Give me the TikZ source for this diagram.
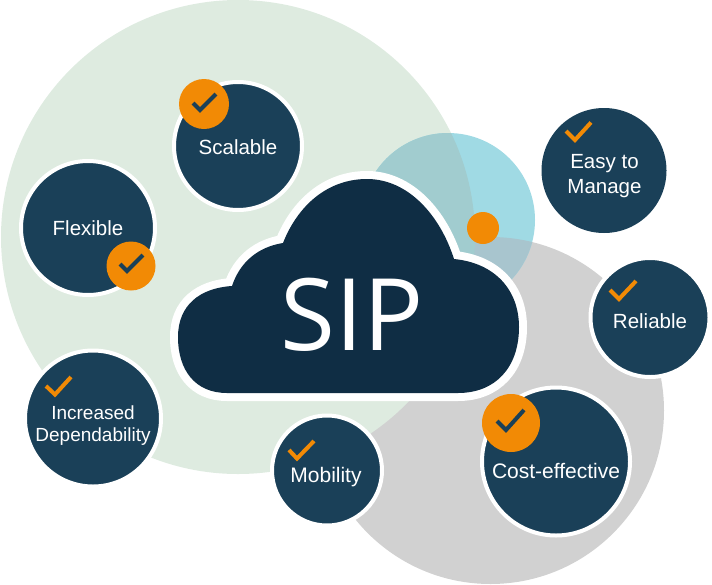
\documentclass[tikz,border=0pt]{standalone}
\usepackage{fontspec}
\setmainfont{Liberation Sans}
\newfontfamily\sipfont{Open Sans}
\usepackage{tikz}
\definecolor{greenbg}{HTML}{DEEBE0}
\definecolor{graybg}{HTML}{D1D1D1}
\definecolor{bluebg}{HTML}{A0DAE4}
\definecolor{bluegreen}{HTML}{A1CCCF}
\definecolor{bluegray}{HTML}{A8C5CE}
\definecolor{bubblecol}{HTML}{1A4058}
\definecolor{cloudcol}{HTML}{0F2D44}
\definecolor{orangecol}{HTML}{F28A05}
\tikzset{
    bubble/.style={circle, fill=bubblecol, draw=white, line width=4pt, inner sep=0pt},
    badge/.style={circle, fill=orangecol, inner sep=0pt},
    bubbletext/.style={text=white, align=center, font=\fontsize{20.5}{25.5}\selectfont},
    tickorange/.style={draw=orangecol, line width=4pt, miter limit=10},
    tickdark/.style={draw=bubblecol, line width=4pt, miter limit=10}
}
\begin{document}
\begin{tikzpicture}[x=1pt,y=-1pt]
    \useasboundingbox (0,0) rectangle (712,584);

    % background circles
    \fill[graybg] (490.5,410.5) circle (173.5);
    \fill[greenbg] (238,237) circle (237);
    \fill[bluebg] (448,220) circle (87);
    \begin{scope}
        \clip (490.5,410.5) circle (173.5);
        \fill[bluegray] (448,220) circle (87);
    \end{scope}
    \begin{scope}
        \clip (238,237) circle (237);
        \fill[bluegreen] (448,220) circle (87);
    \end{scope}

    % cloud
    \path[fill=cloudcol, preaction={draw=white, line width=16pt}]
        (227,393) .. controls (195,393) and (178,370) .. (178,337)
        .. controls (178,305) and (200,288) .. (232,286)
        .. controls (240,262) and (258,247) .. (283,243)
        .. controls (298,205) and (328,179) .. (367,179)
        .. controls (408,179) and (440,215) .. (454,259)
        .. controls (495,263) and (519,290) .. (519,327)
        .. controls (519,368) and (495,393) .. (458,393)
        -- cycle;
    \node[text=white, font=\sipfont\fontsize{100}{100}\selectfont] (sip) at (352,315) {SIP};

    \node[badge, minimum size=32pt] (dot) at (483,228) {};

    % bubbles
    \node[bubble, minimum size=128pt] (scalable) at (238,146) {};
    \node[bubble, minimum size=134pt] (flexible) at (88,228) {};
    \node[bubble, minimum size=125pt, draw=none] (easy) at (604,170.5) {};
    \node[bubble, minimum size=119pt] (reliable) at (650,317.5) {};
    \node[bubble, minimum size=136pt] (increased) at (93,418.5) {};
    \node[bubble, minimum size=110pt] (mobility) at (327,470.5) {};
    \node[bubble, minimum size=148pt] (cost) at (556,461.5) {};

    \node[bubbletext] (scalabletext) at (238,147) {Scalable};
    \node[bubbletext] (flexibletext) at (88,228) {Flexible};
    \node[bubbletext] (easytext) at (604.5,176) {Easy to\\Manage};
    \node[bubbletext] (reliabletext) at (650,321) {Reliable};
    \node[bubbletext, font=\fontsize{19}{22}\selectfont] (increasedtext) at (93,426) {Increased\\Dependability};
    \node[bubbletext, font=\fontsize{21}{25}\selectfont] (mobilitytext) at (326,477) {Mobility};
    \node[bubbletext, font=\fontsize{21}{25}\selectfont] (costtext) at (556,471) {Cost-effective};

    % badges with dark ticks
    \node[badge, minimum size=50pt] (scalablebadge) at (204,104) {};
    \node[badge, minimum size=49pt] (flexiblebadge) at (131,266) {};
    \node[badge, minimum size=58pt] (costbadge) at (511,423) {};
    \draw[tickdark] (193,103) -- (200,110) -- (216,94);
    \draw[tickdark] (120,264) -- (127,271) -- (143,255);
    \draw[tickdark] (497,421) -- (506,430) -- (524,410);

    % orange ticks
    \draw[tickorange] (46,386) -- (55,394.5) -- (71,377);
    \draw[tickorange] (289,450) -- (297,458.5) -- (314,441);
    \draw[tickorange] (566,131) -- (575,140) -- (591,122.5);
    \draw[tickorange] (610,290) -- (619,299) -- (636,281);
\end{tikzpicture}
\end{document}
